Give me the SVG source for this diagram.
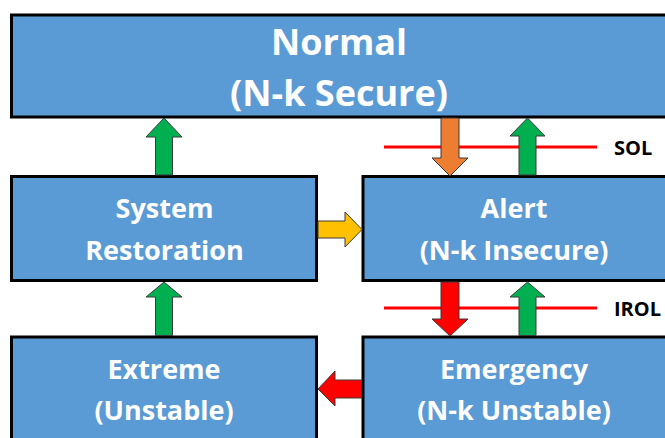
<svg xmlns="http://www.w3.org/2000/svg" width="665" height="438" viewBox="0 0 665 438">
<style>
.box{fill:#5B9BD5;stroke:#000;stroke-width:3}
.t{font-family:"Open Sans",Lato,sans-serif;font-weight:bold;fill:#fff;text-anchor:middle}
.big{font-size:36px}
.mid{font-size:27px}
.lbl{font-family:"Open Sans",Lato,sans-serif;font-weight:bold;font-size:20px;fill:#000}
.arr{stroke:#3a3a3a;stroke-width:1;stroke-linejoin:miter}
.g{fill:#00B050}.o{fill:#ED7D31}.y{fill:#FFC000}.r{fill:#FF0000}
.lim{stroke:#FF0000;stroke-width:3}
</style>
<rect width="665" height="438" fill="#fff"/>
<g id="normal">
<rect class="box" x="11.5" y="15" width="700" height="102"/>
<text class="t big" x="339" y="55">Normal</text>
<text class="t big" x="339" y="106">(N-k Secure)</text>
</g>
<g id="restoration">
<rect class="box" x="11.5" y="176.5" width="305" height="104"/>
<text class="t mid" x="164.5" y="218">System</text>
<text class="t mid" x="164.5" y="260">Restoration</text>
</g>
<g id="alert">
<rect class="box" x="363" y="176.5" width="340" height="104"/>
<text class="t mid" x="514" y="218">Alert</text>
<text class="t mid" x="514" y="260">(N-k Insecure)</text>
</g>
<g id="extreme">
<rect class="box" x="11.5" y="337" width="305" height="120"/>
<text class="t mid" x="164" y="379">Extreme</text>
<text class="t mid" x="164" y="420">(Unstable)</text>
</g>
<g id="emergency">
<rect class="box" x="363" y="337" width="340" height="120"/>
<text class="t mid" x="514" y="379">Emergency</text>
<text class="t mid" x="514" y="420">(N-k Unstable)</text>
</g>
<g id="limits">
<line class="lim" x1="384" y1="147" x2="597" y2="147"/>
<text class="lbl" x="614" y="155">SOL</text>
<line class="lim" x1="384" y1="308" x2="597" y2="308"/>
<text class="lbl" x="614" y="316">IROL</text>
</g>
<g id="connectors">
<polygon class="arr g" points="155.5,175 155.5,137 146,137 164,118 182,137 172.5,137 172.5,175"/>
<polygon class="arr o" points="441,118 459,118 459,158 468,158 450,176 432,158 441,158"/>
<polygon class="arr g" points="519,175 519,136 510,136 527.5,118 545,136 536,136 536,175"/>
<polygon class="arr y" points="318,221 345,221 345,212 362,229.5 345,247 345,238 318,238"/>
<polygon class="arr g" points="155.5,335.5 155.5,297 146,297 164,282 182,297 172.5,297 172.5,335.5"/>
<polygon class="arr r" points="441,282 459,282 459,319 468,319 450,336 432,319 441,319"/>
<polygon class="arr g" points="519,335.5 519,297 510,297 527.5,282 545,297 536,297 536,335.5"/>
<polygon class="arr r" points="361.5,380 335,380 335,371 318,389 335,406 335,398 361.5,398"/>
</g>
</svg>
